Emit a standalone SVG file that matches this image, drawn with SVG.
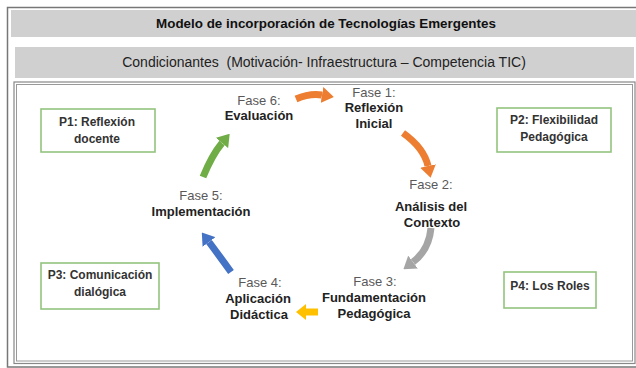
<svg xmlns="http://www.w3.org/2000/svg" width="636" height="368" viewBox="0 0 636 368">
<style>
  text { font-family: "Liberation Sans", Arial, sans-serif; text-anchor: middle; }
  .title { font-size: 13.4px; font-weight: bold; fill: #111; }
  .sub { font-size: 14px; fill: #222; white-space: pre; }
  .fase { font-size: 13px; fill: #595959; }
  .name { font-size: 13px; font-weight: bold; fill: #222; }
  .ptxt { font-size: 12px; font-weight: bold; fill: #333; }
  .pbox { fill: #fff; stroke: #93c47d; stroke-width: 1.6; }
  .band { fill: #d0d0d0; }
  .arr { fill: none; stroke-width: 7; }
</style>
<defs>
  <marker id="hOrange" viewBox="0 -8 12 16" refX="0" refY="0" markerWidth="12" markerHeight="16" markerUnits="userSpaceOnUse" orient="auto"><path d="M0,-8 L12,0 L0,8 z" fill="#ED7D31"/></marker>
  <marker id="hGray" viewBox="0 -8 12 16" refX="0" refY="0" markerWidth="12" markerHeight="16" markerUnits="userSpaceOnUse" orient="auto"><path d="M0,-8 L12,0 L0,8 z" fill="#A5A5A5"/></marker>
  <marker id="hYellow" viewBox="0 -8 10 16" refX="0" refY="0" markerWidth="10" markerHeight="16" markerUnits="userSpaceOnUse" orient="auto"><path d="M0,-8 L10,0 L0,8 z" fill="#FFC000"/></marker>
  <marker id="hBlue" viewBox="0 -8 12 16" refX="0" refY="0" markerWidth="12" markerHeight="16" markerUnits="userSpaceOnUse" orient="auto"><path d="M0,-8 L12,0 L0,8 z" fill="#4472C4"/></marker>
  <marker id="hGreen" viewBox="0 -8 12 16" refX="0" refY="0" markerWidth="12" markerHeight="16" markerUnits="userSpaceOnUse" orient="auto"><path d="M0,-8 L12,0 L0,8 z" fill="#70AD47"/></marker>
</defs>
<rect width="636" height="368" fill="#fff"/>
<!-- outer frame -->
<rect x="7.5" y="7.5" width="640" height="359.5" fill="none" stroke="#777" stroke-width="1.5"/>
<!-- header bands -->
<g id="header">
  <rect class="band" x="11" y="10" width="625" height="27"/>
  <text class="title" x="326" y="28">Modelo de incorporación de Tecnologías Emergentes</text>
</g>
<g id="condicionantes">
  <rect class="band" x="15" y="47" width="619" height="31"/>
  <text class="sub" x="324" y="66.5" xml:space="preserve">Condicionantes  (Motivación- Infraestructura – Competencia TIC)</text>
</g>
<!-- inner frame -->
<rect x="14" y="82" width="621" height="281.5" fill="none" stroke="#888" stroke-width="1.2"/>
<rect x="16.5" y="84.5" width="616" height="276.5" fill="none" stroke="#999" stroke-width="1"/>

<g id="P1">
  <rect class="pbox" x="41" y="109" width="114" height="43"/>
  <text class="ptxt" x="97" y="126">P1: Reflexión</text>
  <text class="ptxt" x="97" y="143">docente</text>
</g>
<g id="P2">
  <rect class="pbox" x="497" y="108" width="114" height="44"/>
  <text class="ptxt" x="554" y="124">P2: Flexibilidad</text>
  <text class="ptxt" x="554" y="141">Pedagógica</text>
</g>
<g id="P3">
  <rect class="pbox" x="41" y="263" width="118" height="46"/>
  <text class="ptxt" x="100" y="279">P3: Comunicación</text>
  <text class="ptxt" x="100" y="296">dialógica</text>
</g>
<g id="P4">
  <rect class="pbox" x="504" y="272" width="92" height="36"/>
  <text class="ptxt" x="550" y="290">P4: Los Roles</text>
</g>

<g id="fase1">
  <text class="fase" x="374" y="97">Fase 1:</text>
  <text class="name" x="374" y="112">Reflexión</text>
  <text class="name" x="374" y="128">Inicial</text>
</g>
<g id="fase2">
  <text class="fase" x="431" y="189">Fase 2:</text>
  <text class="name" x="431" y="211">Análisis del</text>
  <text class="name" x="432" y="227">Contexto</text>
</g>
<g id="fase3">
  <text class="fase" x="375" y="286">Fase 3:</text>
  <text class="name" x="374" y="302">Fundamentación</text>
  <text class="name" x="374" y="318">Pedagógica</text>
</g>
<g id="fase4">
  <text class="fase" x="260" y="287">Fase 4:</text>
  <text class="name" x="258" y="303">Aplicación</text>
  <text class="name" x="259" y="319">Didáctica</text>
</g>
<g id="fase5">
  <text class="fase" x="201" y="200">Fase 5:</text>
  <text class="name" x="201" y="216">Implementación</text>
</g>
<g id="fase6">
  <text class="fase" x="259" y="105">Fase 6:</text>
  <text class="name" x="259" y="120">Evaluación</text>
</g>

<g id="connectors">
  <path class="arr" stroke="#ED7D31" d="M296,99 Q310,93 322,95" marker-end="url(#hOrange)"/>
  <path class="arr" stroke="#ED7D31" d="M403,133 Q424,148 428,166" marker-end="url(#hOrange)"/>
  <path class="arr" stroke="#A5A5A5" d="M431,228 Q429,250 413,262" marker-end="url(#hGray)"/>
  <path class="arr" stroke="#FFC000" d="M318,312 L306,312" marker-end="url(#hYellow)"/>
  <path class="arr" stroke="#4472C4" d="M231,272 Q218,254 209,242" marker-end="url(#hBlue)"/>
  <path class="arr" stroke="#70AD47" d="M203,177 Q212,155 222,143" marker-end="url(#hGreen)"/>
</g>
</svg>
